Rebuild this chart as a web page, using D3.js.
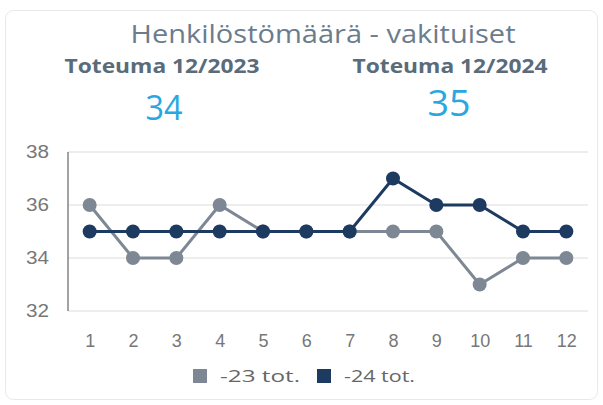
<!DOCTYPE html>
<html><head><meta charset="utf-8">
<script src="https://cdn.jsdelivr.net/npm/d3@7"></script>
<style>
html,body{margin:0;padding:0;background:#fff;}
svg{display:block;font-family:"Segoe UI","Open Sans","Noto Sans",sans-serif;}
</style></head>
<body><svg id="c" width="603" height="405"></svg>
<script>
const months = ["1","2","3","4","5","6","7","8","9","10","11","12"];
const series23 = [36,34,34,36,35,35,35,35,35,33,34,34];
const series24 = [35,35,35,35,35,35,35,37,36,36,35,35];
const yTicks = [32,34,36,38];
const seriesNames = ["-23 tot.","-24 tot."];
const seriesColors = ["#7e8794","#1d3a61"];
const title = "Henkilöstömäärä - vakituiset";
const kpiLabels = ["Toteuma 12/2023","Toteuma 12/2024"];
const kpiValues = ["34","35"];

const svg = d3.select("#c");
svg.append("rect").attr("x",5.5).attr("y",10.5).attr("width",592).attr("height",389)
  .attr("rx",8).attr("fill","#fff").attr("stroke","#e8e8e8");

svg.append("text").attr("x",323).attr("y",43).attr("text-anchor","middle")
  .attr("font-size",25).attr("fill","#6b7c8c")
  .attr("textLength",385).attr("lengthAdjust","spacingAndGlyphs").text(title);
const kx=[162,450];
kpiLabels.forEach((t,i)=>{
  svg.append("text").attr("x",kx[i]).attr("y",73).attr("text-anchor","middle")
    .attr("font-size",20).attr("font-weight","bold").attr("fill","#5a6b7a")
    .attr("textLength",195).attr("lengthAdjust","spacingAndGlyphs").text(t);
});
svg.append("text").attr("x",164).attr("y",120).attr("text-anchor","middle")
  .attr("font-size",34).attr("fill","#2aa7df")
  .attr("textLength",37).attr("lengthAdjust","spacingAndGlyphs").text(kpiValues[0]);
svg.append("text").attr("x",449).attr("y",116).attr("text-anchor","middle")
  .attr("font-size",37).attr("fill","#2aa7df")
  .attr("textLength",43).attr("lengthAdjust","spacingAndGlyphs").text(kpiValues[1]);

const x = d3.scalePoint().domain(months).range([68,588]).padding(0.5);
const y = d3.scaleLinear().domain([32,38]).range([311,152]);

const g = svg.append("g");
g.selectAll(".grid").data(yTicks).join("line")
  .attr("x1",68).attr("x2",588).attr("y1",d=>y(d)).attr("y2",d=>y(d))
  .attr("stroke","#dcdcdc").attr("stroke-width",1);
g.append("line").attr("x1",68).attr("x2",68).attr("y1",y(38)).attr("y2",y(32))
  .attr("stroke","#666").attr("stroke-width",1.2);

const yAxis = d3.axisLeft(y).tickValues(yTicks).tickFormat(d3.format("d")).tickSize(0).tickPadding(19);
const ya = svg.append("g").attr("transform","translate(68,0)").call(yAxis);
ya.select(".domain").remove();
ya.selectAll("text").attr("font-size",18).attr("fill","#777").attr("font-family",null)
  .attr("textLength",23).attr("lengthAdjust","spacingAndGlyphs");

const xAxis = d3.axisBottom(x).tickSize(0).tickPadding(0);
const xa = svg.append("g").attr("transform","translate(0,334)").call(xAxis);
xa.select(".domain").remove();
xa.selectAll("text").attr("font-size",18).attr("fill","#777").attr("font-family",null);

const line = d3.line().x((d,i)=>x(months[i])).y(d=>y(d));
[series23,series24].forEach((s,k)=>{
  svg.append("path").datum(s).attr("d",line).attr("fill","none")
    .attr("stroke",seriesColors[k]).attr("stroke-width",3);
  svg.append("g").selectAll("circle").data(s).join("circle")
    .attr("cx",(d,i)=>x(months[i])).attr("cy",d=>y(d)).attr("r",7)
    .attr("fill",seriesColors[k]);
});

const lx=[193,317];
seriesNames.forEach((n,i)=>{
  svg.append("rect").attr("x",lx[i]).attr("y",369).attr("width",14).attr("height",14)
    .attr("fill",seriesColors[i]);
  svg.append("text").attr("x",lx[i]+27).attr("y",382).attr("font-size",17)
    .attr("fill","#666").attr("textLength",i===0?80:71).attr("lengthAdjust","spacingAndGlyphs").text(n);
});
</script></body></html>
